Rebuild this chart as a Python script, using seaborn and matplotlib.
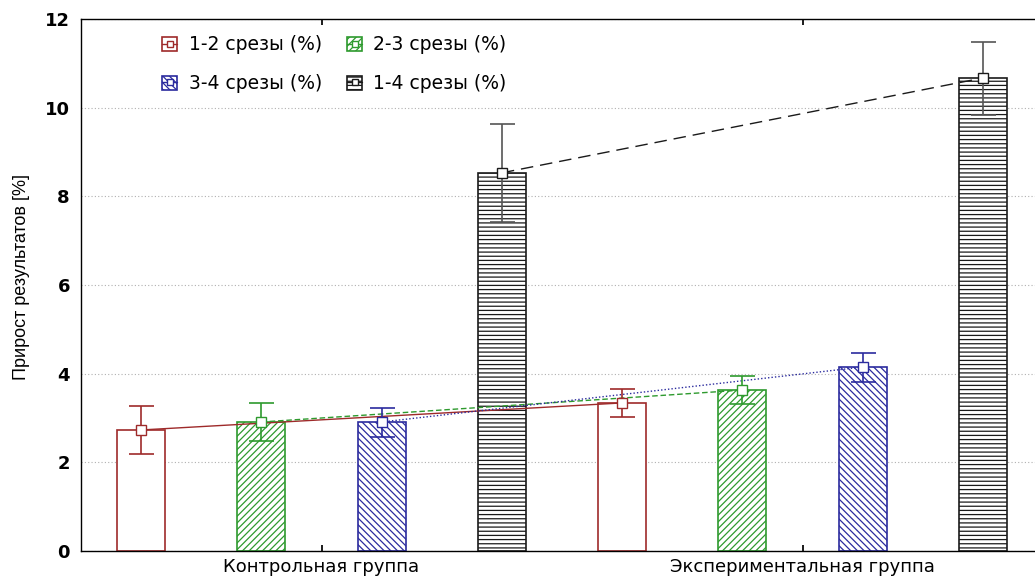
import matplotlib
matplotlib.use("Agg")
import matplotlib.pyplot as plt
from matplotlib.patches import Patch
from matplotlib.lines import Line2D
import numpy as np
import pandas as pd
import seaborn as sns

# Groups and series
groups = ["Контрольная группа", "Экспериментальная группа"]
series = ["1-2 срезы (%)", "2-3 срезы (%)", "3-4 срезы (%)", "1-4 срезы (%)"]

# Mean gain per series (control, experimental)
means_12 = [2.73, 3.34]
means_23 = [2.91, 3.63]
means_34 = [2.91, 4.15]
means_14 = [8.53, 10.67]

# Error bar limits (lower, upper)
low_12 = [2.18, 3.02]
high_12 = [3.27, 3.65]
low_23 = [2.48, 3.32]
high_23 = [3.34, 3.95]
low_34 = [2.57, 3.81]
high_34 = [3.23, 4.47]
low_14 = [7.42, 9.84]
high_14 = [9.63, 11.48]

yticks = [0, 2, 4, 6, 8, 10, 12]

means = [means_12, means_23, means_34, means_14]
lows = [low_12, low_23, low_34, low_14]
highs = [high_12, high_23, high_34, high_14]

colors = ["#9e2a2a", "#2e9a2e", "#2b2b9e", "#1a1a1a"]
err_colors = ["#9e2a2a", "#2e9a2e", "#2b2b9e", "#555555"]
hatches = ["", "/////", "\\\\\\\\\\", "----"]
linestyles = ["-", (0, (4, 2)), (0, (1, 1.5)), (0, (9, 5))]

rows = []
for s, vals in zip(series, means):
    for g, v in zip(groups, vals):
        rows.append({"group": g, "series": s, "value": v})
df = pd.DataFrame(rows)

sns.set_theme(style="white")
plt.rcParams["font.family"] = ["DejaVu Sans"]
plt.rcParams["hatch.linewidth"] = 0.9
plt.rcParams["text.color"] = "black"
plt.rcParams["axes.labelcolor"] = "black"
plt.rcParams["xtick.color"] = "black"
plt.rcParams["ytick.color"] = "black"

fig = plt.figure(figsize=(10.35, 5.78), dpi=100)
ax = fig.add_axes([81 / 1035, 27 / 578, 962 / 1035, 532 / 578])

sns.barplot(data=df, x="group", y="value", hue="series", order=groups,
            hue_order=series, width=1.0, gap=0.6, errorbar=None,
            legend=False, ax=ax)

# Style bars per series; seaborn adds patches series by series
for i, s in enumerate(series):
    for j in range(len(groups)):
        p = ax.patches[i * len(groups) + j]
        p.set_facecolor("white")
        p.set_edgecolor(colors[i])
        p.set_linewidth(1.2)
        p.set_hatch(hatches[i])
        p.set_zorder(2)

# Connecting lines, error bars and mean markers at bar centres
for i, s in enumerate(series):
    xs = []
    for j in range(len(groups)):
        p = ax.patches[i * len(groups) + j]
        xs.append(p.get_x() + p.get_width() / 2)
    xs = np.array(xs)
    m = np.array(means[i])
    lo = m - np.array(lows[i])
    hi = np.array(highs[i]) - m
    ax.plot(xs, m, color=colors[i], linestyle=linestyles[i], linewidth=1.0, zorder=3)
    ax.errorbar(xs, m, yerr=[lo, hi], fmt="none", ecolor=err_colors[i],
                elinewidth=1.2, capsize=9, capthick=1.2, zorder=4)
    ax.plot(xs, m, linestyle="none", marker="s", markersize=7,
            markerfacecolor="white", markeredgecolor=colors[i],
            markeredgewidth=1.0, zorder=5)

ax.set_xlim(-0.5, 1.5)
ax.set_ylim(0, 12)
ax.set_yticks(yticks)
ax.set_xlabel("")
ax.set_ylabel("Прирост результатов [%]",
              fontfamily=["Liberation Sans Narrow", "Liberation Sans"],
              fontsize=13)
ax.yaxis.set_label_coords(-0.053, 0.515)
ax.yaxis.grid(True, linestyle=(0, (1, 2)), color="#b0b0b0", linewidth=0.8)
ax.set_axisbelow(True)

for side in ["left", "bottom", "top"]:
    ax.spines[side].set_visible(True)
    ax.spines[side].set_color("black")
    ax.spines[side].set_linewidth(1.0)
ax.spines["right"].set_visible(False)

ax.tick_params(axis="x", direction="in", length=4, top=True, bottom=True,
               labelsize=13, pad=5, color="black")
ax.tick_params(axis="y", direction="in", length=0, labelsize=13, pad=8)
for lab in ax.get_yticklabels():
    lab.set_fontweight("bold")

handles = []
for i in range(len(series)):
    box = Patch(facecolor="white", edgecolor=colors[i], hatch=hatches[i], linewidth=1.2)
    mk = Line2D([], [], linestyle="-", color=colors[i], linewidth=1.0,
                marker="s", markersize=5, markerfacecolor="white",
                markeredgecolor=colors[i])
    handles.append((box, mk))

# Legend fills by column, so reorder to read row by row
order = [0, 2, 1, 3]
leg = ax.legend([handles[k] for k in order], [series[k] for k in order],
                ncol=2, loc="upper left",
                bbox_to_anchor=(153 / 1035, 1 - 26 / 578),
                bbox_transform=fig.transFigure, frameon=False,
                fontsize=13.5, handlelength=0.8, handleheight=0.8,
                handletextpad=0.6, columnspacing=1.35, labelspacing=1.06,
                borderpad=0)

fig.savefig("out.png", dpi=100)
